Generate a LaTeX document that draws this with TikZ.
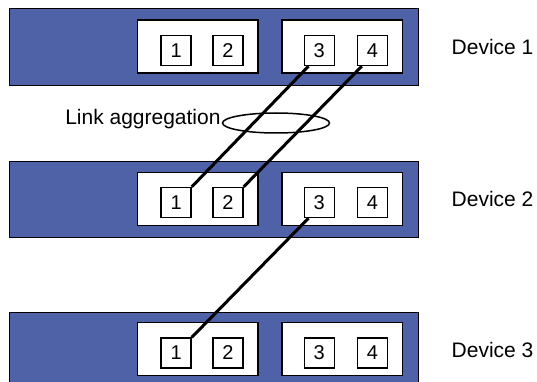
\documentclass[tikz,border=0pt]{standalone}
\usepackage{fontspec}
\setmainfont{Liberation Sans}
\usepackage{xcolor}
\usetikzlibrary{shapes.geometric}
\definecolor{devblue}{RGB}{79,97,167}

\begin{document}
\begin{tikzpicture}[
    x=1pt, y=-1pt,
    device/.style={draw, line width=1pt, rectangle, fill=devblue, minimum width=409pt, minimum height=76.5pt, inner sep=0pt},
    group/.style={draw, line width=1.4pt, rectangle, fill=white, minimum width=120.5pt, minimum height=53pt, inner sep=0pt},
    port/.style={draw, line width=1.3pt, rectangle, fill=white, minimum width=30pt, minimum height=30pt, inner sep=0pt, font=\fontsize{20}{24}\selectfont},
    devlabel/.style={anchor=west, inner sep=0pt, font=\fontsize{21}{25}\selectfont},
    bundle/.style={draw, line width=1.5pt, ellipse, minimum width=107pt, minimum height=20pt, inner sep=0pt},
    link/.style={line width=3pt}
]
\useasboundingbox (0,0) rectangle (537,382);

% Device 1
\node[device] (dev1) at (213.5,46.8) {};
\node[group] (d1ga) at (197.6,46.7) {};
\node[group] (d1gb) at (342.3,46.7) {};
\node[port] (d1p1) at (176.1,50.5) {1};
\node[port] (d1p2) at (228.0,50.5) {2};
\node[port] (d1p3) at (319.2,50.5) {3};
\node[port] (d1p4) at (372.5,50.5) {4};
\node[devlabel] (d1name) at (451.5,47) {Device 1};

% Device 2
\node[device] (dev2) at (213.5,199.3) {};
\node[group] (d2ga) at (197.6,198.7) {};
\node[group] (d2gb) at (342.3,198.7) {};
\node[port] (d2p1) at (176.1,202.5) {1};
\node[port] (d2p2) at (228.0,202.5) {2};
\node[port] (d2p3) at (319.2,202.5) {3};
\node[port] (d2p4) at (372.5,202.5) {4};
\node[devlabel] (d2name) at (451.5,199) {Device 2};

% Device 3 (runs past the bottom edge)
\node[device, minimum height=150pt] (dev3) at (213.5,387.5) {};
\node[group] (d3ga) at (197.6,349.2) {};
\node[group] (d3gb) at (342.3,349.2) {};
\node[port] (d3p1) at (176.1,353.0) {1};
\node[port] (d3p2) at (228.0,353.0) {2};
\node[port] (d3p3) at (319.2,353.0) {3};
\node[port] (d3p4) at (372.5,353.0) {4};
\node[devlabel] (d3name) at (451.5,350) {Device 3};

% aggregated links
\node[bundle] (lag) at (276,123) {};
\node[anchor=base east, inner sep=0pt, font=\fontsize{21}{25}\selectfont] (lagname) at ([xshift=-1pt, yshift=-1.5pt]lag.west) {Link aggregation};

\draw[link] ([xshift=5pt]d1p3.south west) -- (d2p1.north east);
\draw[link] ([xshift=5pt]d1p4.south west) -- (d2p2.north east);
\draw[link] ([xshift=5pt]d2p3.south west) -- (d3p1.north east);

\end{tikzpicture}
\end{document}
